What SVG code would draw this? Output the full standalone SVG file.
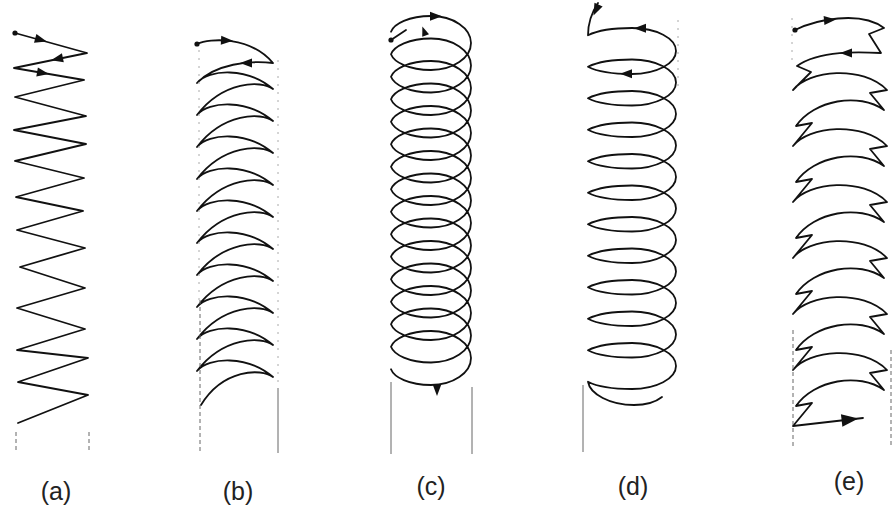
<svg xmlns="http://www.w3.org/2000/svg" xmlns:xlink="http://www.w3.org/1999/xlink" width="896" height="511" viewBox="0 0 896 511">
<style>
.curve{fill:none;stroke:#111;stroke-width:1.8;stroke-linejoin:round;stroke-linecap:round}
.guide{stroke:#666;stroke-width:1;fill:none}
.dash{stroke-dasharray:4 3}
.faint{stroke:#aaa;stroke-dasharray:2 6}
.ah{fill:#111}
.lbl{font-family:"Liberation Sans",Arial,sans-serif;font-size:25px;fill:#222;text-anchor:middle}
</style>
<defs>
<path id="ah" d="M6,0 L-6,-4.5 L-6,4.5 Z"/>
</defs>
<rect width="896" height="511" fill="#fff"/>

<g id="panel-a">
<path class="curve" d="M15,33 L87,53 L14,68 L84,80 L15,97 L86,116 L14,130 L86,144 L15,161 L84,178 L16,197 L83,211 L17,230 L85,248 L20,267 L85,288 L17,308 L85,329 L17,350 L88,358 L18,382 L88,395 L18,423"/>
<circle class="ah" cx="15" cy="33" r="2.6"/>
<use class="ah" href="#ah" transform="translate(41,40) rotate(15.5)"/>
<use class="ah" href="#ah" transform="translate(57,59) rotate(168)"/>
<use class="ah" href="#ah" transform="translate(43,73) rotate(10)"/>
<line class="guide dash" x1="16" y1="432" x2="16" y2="452"/>
<line class="guide dash" x1="89" y1="432" x2="89" y2="452"/>
<text class="lbl" x="56" y="500">(a)</text>
</g>

<g id="panel-b">
<path class="curve" d="M197,44 C210,38 250,36 273,63 C250,60 215,64 197,83
c 12,-14 50,-16 76,6 c -12,-9 -50,-8 -76,26
c 12,-14 50,-16 76,6 c -12,-9 -50,-8 -76,26
c 12,-14 50,-16 76,6 c -12,-9 -50,-8 -76,26
c 12,-14 50,-16 76,6 c -12,-9 -50,-8 -76,26
c 12,-14 50,-16 76,6 c -12,-9 -50,-8 -76,26
c 12,-14 50,-16 76,6 c -12,-9 -50,-8 -76,26
c 12,-14 50,-16 76,6 c -12,-9 -50,-8 -76,26
c 12,-14 50,-16 76,6 c -12,-9 -50,-8 -76,26
c 12,-14 50,-16 76,6 c -12,-9 -50,-8 -76,26
c 12,-14 50,-16 76,6 c -12,-9 -50,-8 -72,28"/>
<circle class="ah" cx="197" cy="44" r="2.6"/>
<use class="ah" href="#ah" transform="translate(227,40.5) rotate(3)"/>
<use class="ah" href="#ah" transform="translate(246,63) rotate(180)"/>
<line class="guide faint" x1="199" y1="50" x2="199" y2="300"/>
<line class="guide dash" x1="200" y1="300" x2="200" y2="453"/>
<line class="guide faint" x1="278" y1="60" x2="278" y2="385"/>
<line class="guide" x1="278" y1="388" x2="278" y2="453"/>
<text class="lbl" x="238" y="500">(b)</text>
</g>

<g id="panel-c">
<path class="curve" d="M391,31.75
c 3,-8 18,-15.75 40,-15.75 c 22.1,0 40,12.1 40,27 c 0,14.9 -17.9,27 -40,27 c -22,0 -37,-7.75 -40,-15.75
c 3,-8 18,-15.75 40,-15.75 c 22.1,0 40,12.1 40,27 c 0,14.9 -17.9,27 -40,27 c -22,0 -37,-7.75 -40,-15.75
c 3,-8 18,-15.75 40,-15.75 c 22.1,0 40,12.1 40,27 c 0,14.9 -17.9,27 -40,27 c -22,0 -37,-7.75 -40,-15.75
c 3,-8 18,-15.75 40,-15.75 c 22.1,0 40,12.1 40,27 c 0,14.9 -17.9,27 -40,27 c -22,0 -37,-7.75 -40,-15.75
c 3,-8 18,-15.75 40,-15.75 c 22.1,0 40,12.1 40,27 c 0,14.9 -17.9,27 -40,27 c -22,0 -37,-7.75 -40,-15.75
c 3,-8 18,-15.75 40,-15.75 c 22.1,0 40,12.1 40,27 c 0,14.9 -17.9,27 -40,27 c -22,0 -37,-7.75 -40,-15.75
c 3,-8 18,-15.75 40,-15.75 c 22.1,0 40,12.1 40,27 c 0,14.9 -17.9,27 -40,27 c -22,0 -37,-7.75 -40,-15.75
c 3,-8 18,-15.75 40,-15.75 c 22.1,0 40,12.1 40,27 c 0,14.9 -17.9,27 -40,27 c -22,0 -37,-7.75 -40,-15.75
c 3,-8 18,-15.75 40,-15.75 c 22.1,0 40,12.1 40,27 c 0,14.9 -17.9,27 -40,27 c -22,0 -37,-7.75 -40,-15.75
c 3,-8 18,-15.75 40,-15.75 c 22.1,0 40,12.1 40,27 c 0,14.9 -17.9,27 -40,27 c -22,0 -37,-7.75 -40,-15.75
c 3,-8 18,-15.75 40,-15.75 c 22.1,0 40,12.1 40,27 c 0,14.9 -17.9,27 -40,27 c -22,0 -37,-7.75 -40,-15.75
c 3,-8 18,-15.75 40,-15.75 c 22.1,0 40,12.1 40,27 c 0,14.9 -17.9,27 -40,27 c -22,0 -37,-7.75 -40,-15.75
c 3,-8 18,-15.75 40,-15.75 c 22.1,0 40,12.1 40,27 c 0,14.9 -17.9,27 -40,27 c -22,0 -37,-7.75 -40,-15.75
c 3,-8 18,-15.75 40,-15.75 c 22.1,0 40,12.1 40,27 c 0,14.9 -17.9,27 -40,27 c -22,0 -37,-7.75 -40,-15.75
c 3,-8 18,-15.75 40,-15.75 c 22.1,0 40,12.1 40,27 c 0,14.9 -17.9,27 -40,27 c -22,0 -37,-7.75 -40,-15.75"/>
<path class="curve" d="M391,40 L406,30"/>
<circle class="ah" cx="391" cy="40" r="2.6"/>
<use class="ah" href="#ah" transform="translate(436,16.2) rotate(0)"/>
<use class="ah" href="#ah" transform="translate(424,31) rotate(-110) scale(0.8)"/>
<use class="ah" href="#ah" transform="translate(437,390) rotate(90)"/>
<line class="guide" x1="391" y1="382" x2="391" y2="454"/>
<line class="guide" x1="472" y1="387" x2="472" y2="454"/>
<text class="lbl" x="431" y="495">(c)</text>
</g>

<g id="panel-d">
<path class="curve" d="M598,3 C592,12 588,24 588,35.25
c 10,-5 26,-7.25 44,-7.25 c 24.3,0 44,10.3 44,23 c 0,12.7 -19.7,23 -44,23 c -18,0 -34,-2 -44,-7.25
c 10,-5 26,-7.25 44,-7.25 c 24.3,0 44,10.3 44,23 c 0,12.7 -19.7,23 -44,23 c -18,0 -34,-2 -44,-7.25
c 10,-5 26,-7.25 44,-7.25 c 24.3,0 44,10.3 44,23 c 0,12.7 -19.7,23 -44,23 c -18,0 -34,-2 -44,-7.25
c 10,-5 26,-7.25 44,-7.25 c 24.3,0 44,10.3 44,23 c 0,12.7 -19.7,23 -44,23 c -18,0 -34,-2 -44,-7.25
c 10,-5 26,-7.25 44,-7.25 c 24.3,0 44,10.3 44,23 c 0,12.7 -19.7,23 -44,23 c -18,0 -34,-2 -44,-7.25
c 10,-5 26,-7.25 44,-7.25 c 24.3,0 44,10.3 44,23 c 0,12.7 -19.7,23 -44,23 c -18,0 -34,-2 -44,-7.25
c 10,-5 26,-7.25 44,-7.25 c 24.3,0 44,10.3 44,23 c 0,12.7 -19.7,23 -44,23 c -18,0 -34,-2 -44,-7.25
c 10,-5 26,-7.25 44,-7.25 c 24.3,0 44,10.3 44,23 c 0,12.7 -19.7,23 -44,23 c -18,0 -34,-2 -44,-7.25
c 10,-5 26,-7.25 44,-7.25 c 24.3,0 44,10.3 44,23 c 0,12.7 -19.7,23 -44,23 c -18,0 -34,-2 -44,-7.25
c 10,-5 26,-7.25 44,-7.25 c 24.3,0 44,10.3 44,23 c 0,12.7 -19.7,23 -44,23 c -18,0 -34,-2 -44,-7.25
c 10,-5 26,-7.25 44,-7.25 c 24.3,0 44,10.3 44,23 c 0,12.7 -19.7,23 -44,23 c -18,0 -34,-2 -44,-7.25
C590,394 610,405 634,405 C648,405 657,401 662,397"/>
<use class="ah" href="#ah" transform="translate(596,10) rotate(115)"/>
<use class="ah" href="#ah" transform="translate(640,28.2) rotate(180)"/>
<use class="ah" href="#ah" transform="translate(626,73.8) rotate(180)"/>
<line class="guide faint" x1="678" y1="20" x2="678" y2="92"/>
<line class="guide" x1="583" y1="385" x2="583" y2="452"/>
<text class="lbl" x="633" y="495">(d)</text>
</g>

<g id="panel-e">
<path class="curve" d="M795,30 C815,20 860,10 884,28 L869,34 L881,53 C860,52 820,50 797,66 L811,72 L793,90
c 15,-20 70,-25 94,0 l -17,3 l 14,17 c -25,-18 -70,-10 -88,16 l 16,-3 l -19,23
c 15,-20 70,-25 94,0 l -17,3 l 14,17 c -25,-18 -70,-10 -88,16 l 16,-3 l -19,23
c 15,-20 70,-25 94,0 l -17,3 l 14,17 c -25,-18 -70,-10 -88,16 l 16,-3 l -19,23
c 15,-20 70,-25 94,0 l -17,3 l 14,17 c -25,-18 -70,-10 -88,16 l 16,-3 l -19,23
c 15,-20 70,-25 94,0 l -17,3 l 14,17 c -25,-18 -70,-10 -88,16 l 16,-3 l -19,23
c 15,-20 70,-25 94,0 l -17,3 l 14,17 c -25,-18 -70,-10 -88,16 l 16,-3 l -19,23
L863,418"/>
<circle class="ah" cx="795" cy="30" r="2.6"/>
<use class="ah" href="#ah" transform="translate(830,20) rotate(-5)"/>
<use class="ah" href="#ah" transform="translate(846,53) rotate(180)"/>
<use class="ah" href="#ah" transform="translate(850,419.5) rotate(-6.5) scale(1.4)"/>
<line class="guide faint" x1="792" y1="18" x2="792" y2="60"/>
<line class="guide dash" x1="793" y1="330" x2="793" y2="448"/>
<line class="guide dash" x1="891" y1="350" x2="891" y2="445"/>
<text class="lbl" x="849" y="490">(e)</text>
</g>
</svg>
